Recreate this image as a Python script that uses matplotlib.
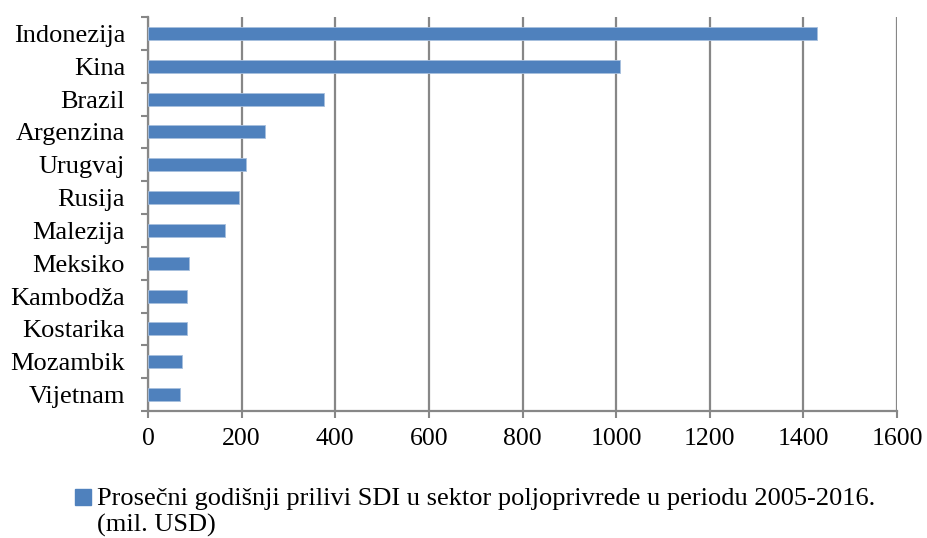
import numpy as np
import matplotlib.pyplot as plt
from matplotlib.patches import Rectangle

countries = ["Indonezija", "Kina", "Brazil", "Argenzina", "Urugvaj", "Rusija",
             "Malezija", "Meksiko", "Kambodža", "Kostarika", "Mozambik", "Vijetnam"]
values = [1430, 1008, 376, 251, 209, 194, 165, 88, 84, 84, 73, 69]
xticks = [0, 200, 400, 600, 800, 1000, 1200, 1400, 1600]
legendLine1 = "Prosečni godišnji prilivi SDI u sektor poljoprivrede u periodu 2005-2016."
legendLine2 = "(mil. USD)"

plt.rcParams['font.family'] = ['Liberation Serif', 'DejaVu Serif']
barColor = "#4F81BD"
gridColor = "#878787"
fs = 19

W, H = 927, 538
fig = plt.figure(figsize=(W / 100, H / 100), dpi=100)
ax = fig.add_axes([148 / W, 1 - 411 / H, (897 - 148) / W, (411 - 17) / H])

y = np.arange(len(countries))
ax.barh(y, values, height=0.4, color=barColor, edgecolor="#A7BFDE", linewidth=0.6, zorder=3)
ax.set_ylim(len(countries) - 0.5, -0.5)
ax.set_xlim(0, 1600)
ax.set_xticks(xticks)
ax.set_xticklabels([str(v) for v in xticks], fontsize=18.5)
ax.set_yticks(y)
ax.set_yticklabels(countries, fontsize=fs)
ax.tick_params(axis='y', length=0, pad=16.5)
ax.set_yticks(np.arange(len(countries) + 1) - 0.5, minor=True)
ax.tick_params(axis='y', which='minor', length=5, width=1.5, color=gridColor, direction='out')
ax.tick_params(axis='x', length=5, width=1.5, color=gridColor, pad=7)

ax.grid(axis='x', color=gridColor, linewidth=1.6, zorder=0)
for s in ['top', 'right']:
    ax.spines[s].set_visible(False)
for s in ['left', 'bottom']:
    ax.spines[s].set_color(gridColor)
    ax.spines[s].set_linewidth(1.6)

# legend below the chart
fig.patches.append(Rectangle((75 / W, 1 - 505 / H), 16 / W, 16 / H, transform=fig.transFigure,
                             color=barColor, figure=fig))
fig.text(97 / W, 1 - 505 / H, legendLine1, fontsize=fs, va='baseline', ha='left')
fig.text(97 / W, 1 - 532 / H, legendLine2, fontsize=fs, va='baseline', ha='left')

fig.savefig("out.png", dpi=100)
